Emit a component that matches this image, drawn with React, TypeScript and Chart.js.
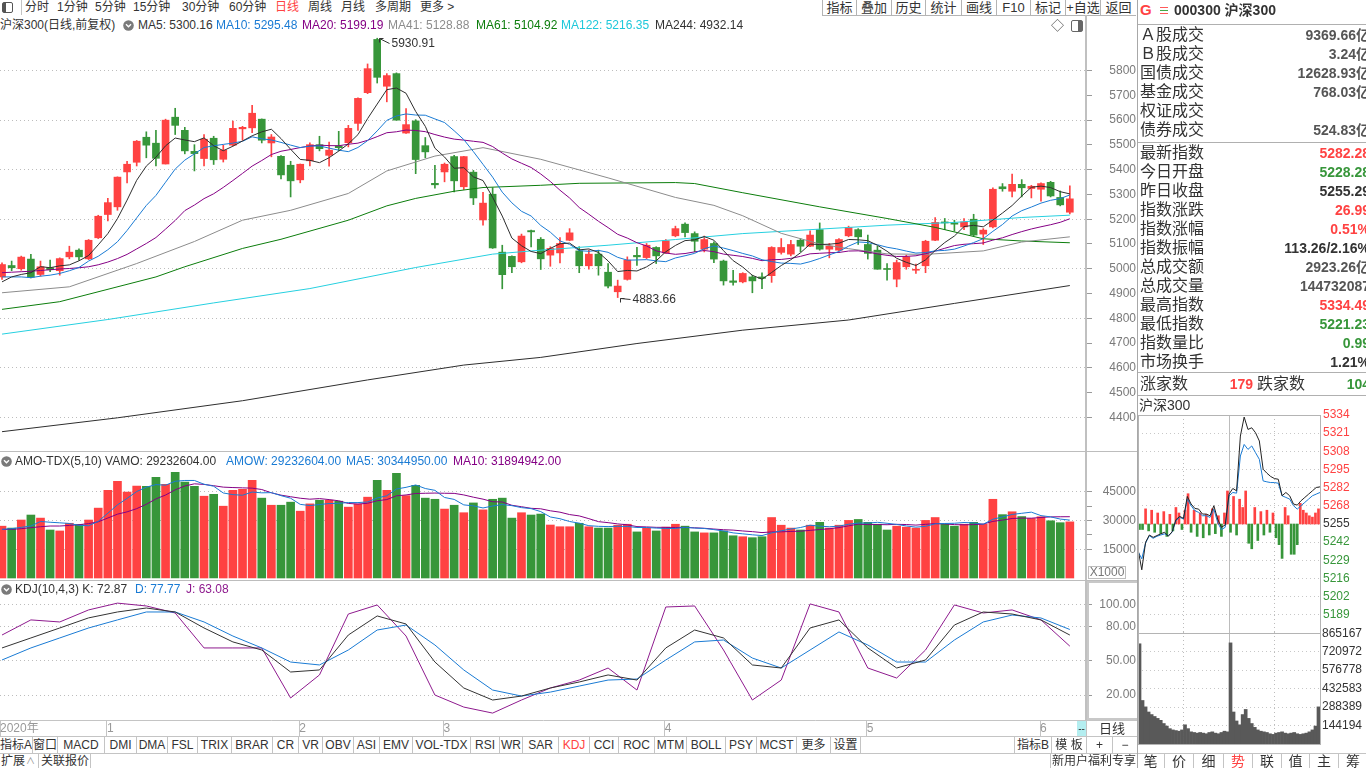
import React, { useEffect, useRef } from 'react';
import { Chart, registerables } from 'chart.js';

Chart.register(...registerables);

// ================= DATA =================
// 沪深300 daily candles, late Dec 2020 .. early Jun 2021
const opens = [
  4967, 5013, 5000, 5039, 4977, 5004, 4992, 5048, 5075, 5040,
  5125, 5219, 5250, 5391, 5430, 5531, 5507, 5423, 5612, 5559,
  5474, 5445, 5527, 5442, 5499, 5565, 5569, 5604, 5508, 5454,
  5418, 5359, 5436, 5501, 5458, 5496, 5509, 5587, 5711, 5926,
  5737, 5788, 5548, 5597, 5497, 5345, 5391, 5453, 5331, 5390,
  5197, 5301, 5067, 5050, 5028, 5154, 5119, 5055, 5064, 5115,
  5072, 5012, 5059, 4986, 4907, 4957, 5054, 5045, 5086, 5064,
  5133, 5180, 5142, 5079, 5102, 5031, 4951, 4947, 4967, 4967,
  4972, 5066, 5059, 5115, 5091, 5158, 5079, 5075, 5133, 5158,
  5098, 5075, 5001, 4958, 5008, 4994, 5012, 5115, 5189, 5185,
  5169, 5200, 5140, 5169, 5331, 5313, 5341, 5324, 5321, 5349,
  5288, 5228.28,
];
const highs = [
  5024, 5031, 5051, 5058, 5031, 5035, 5044, 5091, 5080, 5118,
  5216, 5284, 5371, 5434, 5518, 5553, 5559, 5604, 5648, 5571,
  5501, 5542, 5535, 5499, 5596, 5575, 5660, 5605, 5542, 5457,
  5434, 5423, 5508, 5535, 5511, 5555, 5579, 5690, 5827, 5930.91,
  5788, 5791, 5647, 5602, 5530, 5418, 5427, 5458, 5454, 5397,
  5309, 5327, 5095, 5052, 5140, 5156, 5126, 5089, 5126, 5162,
  5089, 5075, 5075, 5021, 4954, 5048, 5086, 5102, 5089, 5118,
  5172, 5185, 5149, 5132, 5109, 5035, 4994, 4984, 4974, 4984,
  5089, 5122, 5115, 5122, 5153, 5185, 5102, 5122, 5172, 5162,
  5136, 5091, 5021, 5035, 5055, 5019, 5115, 5207, 5203, 5196,
  5203, 5220, 5162, 5327, 5344, 5382, 5360, 5337, 5347, 5353,
  5314, 5334.49,
];
const lows = [
  4957, 4992, 4994, 4963, 4970, 4988, 4974, 5040, 5035, 5037,
  5122, 5193, 5236, 5347, 5415, 5448, 5415, 5423, 5542, 5464,
  5395, 5415, 5421, 5431, 5496, 5519, 5550, 5508, 5452, 5363,
  5290, 5347, 5415, 5476, 5414, 5476, 5492, 5559, 5707, 5750,
  5674, 5600, 5546, 5384, 5448, 5325, 5351, 5310, 5320, 5259,
  5176, 5082, 4919, 4984, 5024, 5088, 4997, 5010, 5024, 5113,
  4984, 4998, 4974, 4923, 4883.66, 4954, 5013, 5041, 5021, 5062,
  5129, 5129, 5068, 5068, 5025, 4934, 4934, 4943, 4903, 4920,
  4945, 5059, 5052, 5068, 5089, 5075, 5044, 5072, 5129, 5098,
  5039, 4998, 4954, 4927, 4998, 4981, 4984, 5113, 5158, 5152,
  5158, 5133, 5098, 5165, 5313, 5290, 5290, 5286, 5273, 5290,
  5254, 5221.23,
];
const closes = [
  5017, 5004, 5047, 4966, 5008, 4996, 5041, 5067, 5048, 5115,
  5212, 5267, 5370, 5422, 5515, 5499, 5446, 5600, 5579, 5476,
  5465, 5523, 5440, 5479, 5567, 5571, 5628, 5519, 5532, 5379,
  5355, 5422, 5501, 5485, 5479, 5489, 5567, 5688, 5808, 5773,
  5780, 5600, 5582, 5441, 5472, 5339, 5422, 5355, 5453, 5286,
  5265, 5084, 4976, 5008, 5132, 5149, 5040, 5082, 5102, 5145,
  5012, 5059, 5012, 4930, 4930, 5035, 5048, 5095, 5052, 5113,
  5162, 5146, 5111, 5118, 5039, 4951, 4945, 4981, 4951, 4961,
  5086, 5086, 5098, 5091, 5136, 5079, 5091, 5118, 5167, 5129,
  5062, 4998, 4997, 5025, 5048, 4998, 5111, 5187, 5185, 5180,
  5189, 5136, 5156, 5321, 5323, 5341, 5327, 5333, 5344, 5294,
  5258, 5282.28,
];
// AMO-TDX amount (x1000)
const amoValues = [
  27000, 26000, 30200, 32800, 31200, 25000, 24500, 28500, 27900, 30200,
  36400, 45700, 50300, 44800, 47900, 47800, 52400, 48800, 55000, 50000,
  47800, 42600, 43600, 37400, 45700, 46200, 50900, 41600, 37900, 37900,
  39500, 34800, 38600, 40500, 40500, 40000, 36900, 38500, 42100, 50900,
  45700, 54500, 42900, 48300, 41600, 41000, 35900, 37900, 34000, 39100,
  35500, 41000, 41600, 31200, 34000, 32800, 33300, 27600, 26700, 26700,
  28500, 26700, 26000, 26000, 27500, 28000, 24000, 26000, 24500, 26500,
  28000, 27000, 24000, 23500, 23500, 24500, 22000, 21500, 21000, 21500,
  31500, 27500, 26000, 25000, 27500, 29000, 26000, 27500, 30000, 30500,
  29000, 28000, 25000, 27000, 26500, 26000, 30000, 31500, 28000, 27000,
  28000, 29000, 28000, 41000, 33000, 34500, 32000, 31000, 31900, 29800,
  28800, 29233,
];

// moving-average values before enough visible history exists
const ma5Head = [4947, 4967, 4977, 4984];
const ma10Head = [4967, 4967, 4967, 4964, 4970, 4974, 4981, 4992, 5005];
const ma20Head = [4984, 4986, 4988, 4990, 4993, 4996, 4999, 5001, 5004, 5008, 5016, 5027, 5041, 5058, 5080, 5102, 5126, 5160, 5195];
const amoMa5Head = [25340, 25690, 26380, 27070];
const amoMa10Head = [25340, 25340, 25690, 26200, 26720, 27070, 27070, 27400, 27760, 28000];

// long moving averages at sample candles
const ma41Index = [0, 7, 14, 20, 25, 30, 36, 40, 45, 50, 56, 63, 70, 74, 77, 81, 85, 88, 92, 96, 102, 106, 111];
const ma41Value = [4903, 4927, 5021, 5110, 5196, 5236, 5304, 5395, 5455, 5489, 5442, 5367, 5288, 5256, 5214, 5143, 5100, 5081, 5060, 5058, 5072, 5108, 5128.88];
const ma61Index = [0, 6, 16, 19, 25, 29, 36, 40, 43, 47, 50, 56, 60, 70, 72, 77, 85, 92, 97, 102, 106, 111];
const ma61Value = [4836, 4867, 4967, 5008, 5082, 5119, 5196, 5254, 5284, 5313, 5328, 5337, 5345, 5348, 5344, 5307, 5250, 5203, 5167, 5121, 5112, 5104.92];
const ma122Index = [0, 11, 22, 32, 43, 51, 56, 63, 70, 77, 85, 92, 99, 106, 111];
const ma122Value = [4736, 4795, 4862, 4920, 5005, 5059, 5075, 5095, 5118, 5142, 5160, 5176, 5187, 5207, 5216.35];
const ma244Index = [0, 12, 25, 38, 48, 56, 66, 77, 88, 99, 111];
const ma244Value = [4342, 4398, 4467, 4551, 4611, 4642, 4698, 4752, 4793, 4860, 4932.14];

// KDJ(10,4,3) read every 3 candles
const kValues = [61.5, 70.3, 79.1, 88, 93.2, 96.7, 93.2, 79.1, 66.8, 59.7, 40.3, 42.1, 72.9, 89.7, 82.6, 49.1, 26.2, 15.6, 19.1, 26.2, 31.5, 37.7, 33.2, 61.5, 77.3, 70.3, 46.5, 43.8, 79.1, 86.2, 61.5, 43.8, 50.9, 81.7, 93.2, 91.4, 86.2, 72.87];
const dValues = [50.9, 61.5, 70.3, 79.1, 86.2, 93.2, 93.2, 84.4, 72, 61.5, 49.1, 46.5, 59.7, 77.3, 81.7, 64.1, 42.1, 24.4, 19.1, 22.6, 27.9, 33.2, 34.1, 50.9, 66.8, 68.5, 52.6, 43.8, 59.7, 75.6, 64.1, 49.1, 49.1, 68.5, 84.4, 90.5, 87.9, 77.77];
const jValues = [72.9, 86.2, 84.4, 95, 101, 98.5, 92.3, 61.5, 61.5, 61.5, 17.4, 37.7, 91.4, 99.4, 72, 20, 9.4, 4.1, 15.6, 26.2, 33.2, 43.8, 24.4, 97.6, 98.5, 59.7, 15.6, 33.2, 100.3, 93.2, 43.8, 35, 59.7, 99.4, 92.3, 95, 86.2, 63.08];

// axis ticks
const priceTicks = [4400, 4500, 4600, 4700, 4800, 4900, 5000, 5100, 5200, 5300, 5400, 5500, 5600, 5700, 5800];
const amoTicks = [15000, 22500, 30000, 37500, 45000];
const kdjTicks = [20, 50, 80, 100];
const monthStartIndex = [11, 31, 46, 69, 90, 108];
const dateLabels = ['2020年', '1', '2', '3', '4', '5', '6'];

// intraday (分时) for the latest day
const intradayPrevClose = 5255.29;
const intradayPrice = [5237.2, 5222, 5242.0, 5247.3, 5245.6, 5246.9, 5248.1, 5249.3, 5246.4, 5249.7, 5258.4, 5260.8, 5259.4, 5275.3, 5269.8, 5266.6, 5266.1, 5262.5, 5262.5, 5261.3, 5268.6, 5258.9, 5252.9, 5254.6, 5277.0, 5281.1, 5279.4, 5319.2, 5333, 5324.0, 5325.2, 5321.6, 5315.6, 5295.1, 5292.2, 5289.8, 5288.3, 5287.8, 5275.8, 5278.2, 5275.8, 5269.8, 5269.0, 5272.2, 5274.6, 5277.0, 5279.4, 5281.8, 5282.28];
const intradayAvg = [5235.3, 5230, 5241.5, 5246.8, 5244.9, 5246.4, 5247.3, 5248.1, 5246.9, 5249.3, 5257.7, 5260.1, 5258.9, 5273.4, 5268.6, 5265, 5263.7, 5261.3, 5261.3, 5260.1, 5266.1, 5256.5, 5251.2, 5252.9, 5275.8, 5278.2, 5277.7, 5304.7, 5313.1, 5309.5, 5312, 5307.1, 5302.3, 5286.6, 5285.9, 5285.4, 5285.4, 5284.9, 5275.8, 5274.6, 5273.4, 5268.6, 5266.1, 5268.6, 5271, 5273.4, 5275.8, 5277, 5278.2];
const intradayPower = [-4, -4, 11, -5, 10, -6, 8, -7, 9, -9, 7, -5, 12, 8, -4, 10, 22, -6, 10, -9, 8, -10, 7, -8, 11, -7, 6, -9, 8, 24, -6, 20, -8, 18, 12, 24, -14, -18, 12, -12, 9, -8, 10, -6, 8, -10, -15, -25, 12, 6, -22, -22, -15, 15, 10, 8, 6, 5, 8, 11];
const intradayVolume = [783000, 340000, 290000, 250000, 230000, 215000, 200000, 185000, 160000, 140000, 120000, 110000, 105000, 100000, 110000, 150000, 120000, 95000, 90000, 85000, 90000, 85000, 80000, 90000, 95000, 85000, 80000, 90000, 100000, 95000, 790000, 250000, 180000, 150000, 230000, 270000, 200000, 160000, 130000, 110000, 100000, 95000, 90000, 80000, 75000, 85000, 90000, 95000, 85000, 80000, 85000, 90000, 80000, 75000, 80000, 85000, 95000, 110000, 140000, 290000];
const intradayPriceTicks = [5176.09, 5189.29, 5202.49, 5215.69, 5228.89, 5242.09, 5255.29, 5268.49, 5281.69, 5294.89, 5308.09, 5321.29, 5334.49];
const intradayPriceLabels = ['', '5189', '5202', '5216', '5229', '5242', '5255', '5268', '5282', '5295', '5308', '5321', '5334'];
const intradayVolTicks = [144194, 288389, 432583, 576778, 720972, 865167];
const intradayGridMinutes = [60, 120, 180];

// ================= STYLE =================
const FONT = '"Liberation Sans", "Noto Sans CJK SC", sans-serif';
const CFONT = '"Liberation Sans", sans-serif';
const RED = '#ff4242';
const GREEN = '#37963a';
const BLUE = '#1a7bd4';
const PURPLE = '#850085';
const GRID = '#bdbdbd';
const LINE = '#c4c4c4';
const X_MIN = -0.21;
const X_MAX = 112.68;

const seq = (n: number) => Array.from({ length: n }, (_, i) => i);
const pts = (xs: number[], ys: number[]) => ys.map((y, i) => ({ x: xs[i], y }));
function movingAverage(values: number[], n: number, head: number[]) {
  return values.map((_, i) => {
    if (i < n - 1) return head[i];
    let s = 0;
    for (let k = i - n + 1; k <= i; k++) s += values[k];
    return s / n;
  });
}

const candleIdx = seq(closes.length);
const candleColors = closes.map((c, i) => (c >= opens[i] ? RED : GREEN));
const kdjIndex = seq(kValues.length).map((k) => k * 3);
const intradayPriceMinute = seq(intradayPrice.length).map((k) => k * 5);
const intradayBarMinute = seq(intradayVolume.length).map((m) => m * 4 + 2);

function noPad(s: any) {
  s.paddingTop = 0;
  s.paddingBottom = 0;
  s.paddingLeft = 0;
  s.paddingRight = 0;
}

function lineDs(data: any[], color: string) {
  return { type: 'line', data, borderColor: color, borderWidth: 1, pointRadius: 0, tension: 0, fill: false, order: 0 };
}

function base(scales: any, padding: any = 0) {
  return {
    animation: false,
    responsive: false,
    maintainAspectRatio: false,
    devicePixelRatio: 1,
    events: [],
    layout: { padding, autoPadding: false },
    plugins: { legend: { display: false }, tooltip: { enabled: false } },
    scales,
  };
}

const xHidden = { type: 'linear', min: X_MIN, max: X_MAX, display: false, offset: false, grid: { offset: false } };

function rightAxis(min: number, max: number, tickValues: number[], labelFn: any, gridFn: any, padding: number) {
  return {
    type: 'linear',
    position: 'right',
    min,
    max,
    afterFit: (s: any) => { s.width = 50; noPad(s); },
    afterBuildTicks: (s: any) => { s.ticks = tickValues.map((v) => ({ value: v })); },
    ticks: { callback: labelFn, color: '#7a7a7a', font: { family: CFONT, size: 12 }, padding, crossAlign: 'far', autoSkip: false },
    grid: { color: gridFn, tickColor: '#9a9a9a', tickLength: 6, lineWidth: 1, drawTicks: true },
    border: { display: true, color: '#c0c0c0', width: 2, dash: [1, 3] },
  };
}

const extremesPlugin = {
  id: 'extremes',
  afterDatasetsDraw(chart: any) {
    const { ctx, scales } = chart;
    let hi = 0;
    let lo = 0;
    for (let i = 1; i < highs.length; i++) {
      if (highs[i] > highs[hi]) hi = i;
      if (lows[i] < lows[lo]) lo = i;
    }
    ctx.save();
    ctx.strokeStyle = '#333';
    ctx.fillStyle = '#333';
    ctx.lineWidth = 1;
    ctx.font = '12px ' + CFONT;
    ctx.textBaseline = 'middle';
    ctx.textAlign = 'left';
    const mark = (i: number, v: number, dy: number) => {
      const px = Math.round(scales.x.getPixelForValue(i)) + 2.5;
      const py = Math.round(scales.y.getPixelForValue(v)) + 0.5;
      ctx.beginPath();
      ctx.moveTo(px, py); ctx.lineTo(px + 10, py + dy);
      ctx.moveTo(px, py); ctx.lineTo(px + 4, py);
      ctx.moveTo(px, py); ctx.lineTo(px, py + 4);
      ctx.stroke();
      ctx.fillText(v.toFixed(2), px + 12, py + dy);
    };
    mark(hi, highs[hi], 5);
    mark(lo, lows[lo], 1);
    ctx.restore();
  },
};

function mainConfig() {
  const ma5 = movingAverage(closes, 5, ma5Head);
  const ma10 = movingAverage(closes, 10, ma10Head);
  const ma20 = movingAverage(closes, 20, ma20Head);
  return {
    type: 'bar',
    data: {
      datasets: [
        lineDs(pts(candleIdx, ma5), '#2e2e2e'),
        lineDs(pts(candleIdx, ma10), BLUE),
        lineDs(pts(candleIdx, ma20), PURPLE),
        lineDs(pts(ma41Index, ma41Value), '#8c8c8c'),
        lineDs(pts(ma61Index, ma61Value), '#0c7d0c'),
        lineDs(pts(ma122Index, ma122Value), '#26d0e0'),
        lineDs(pts(ma244Index, ma244Value), '#2e2e2e'),
        {
          type: 'bar',
          data: candleIdx.map((i) => ({ x: i, y: [lows[i], highs[i]] })),
          backgroundColor: candleColors,
          barThickness: 1,
          maxBarThickness: 1,
          grouped: false,
          order: 3,
        },
        {
          type: 'bar',
          data: candleIdx.map((i) => ({ x: i, y: [Math.min(opens[i], closes[i]), Math.max(opens[i], closes[i])] })),
          backgroundColor: candleColors,
          barThickness: 7,
          maxBarThickness: 7,
          minBarLength: 1,
          grouped: false,
          order: 2,
        },
      ],
    },
    options: base({
      x: xHidden,
      y: rightAxis(4264, 5952, priceTicks, (v: number) => String(v),
        (c: any) => (c.tick && c.tick.value % 200 === 0 ? GRID : 'rgba(0,0,0,0)'), 7),
    }),
    plugins: [extremesPlugin],
  };
}

function amoConfig() {
  const m5 = movingAverage(amoValues, 5, amoMa5Head);
  const m10 = movingAverage(amoValues, 10, amoMa10Head);
  return {
    type: 'bar',
    data: {
      datasets: [
        lineDs(pts(candleIdx, m5), BLUE),
        lineDs(pts(candleIdx, m10), PURPLE),
        {
          type: 'bar',
          data: pts(candleIdx, amoValues),
          backgroundColor: candleColors,
          barThickness: 8,
          maxBarThickness: 8,
          grouped: false,
          order: 2,
        },
      ],
    },
    options: base({
      x: xHidden,
      y: rightAxis(-1562, 66146, amoTicks, (v: number) => (v % 15000 === 0 ? String(v) : ''),
        (c: any) => (c.tick && c.tick.value % 15000 === 0 ? GRID : 'rgba(0,0,0,0)'), 2),
    }),
  };
}

function kdjConfig() {
  return {
    type: 'line',
    data: {
      datasets: [
        lineDs(pts(kdjIndex, kValues), '#333333'),
        lineDs(pts(kdjIndex, dValues), BLUE),
        lineDs(pts(kdjIndex, jValues), '#8e1a8e'),
      ],
    },
    options: base({
      x: {
        type: 'linear',
        position: 'bottom',
        min: X_MIN,
        max: X_MAX,
        offset: false,
        afterFit: (s: any) => { s.height = 16; noPad(s); },
        afterBuildTicks: (s: any) => {
          s.ticks = [X_MIN, ...monthStartIndex.map((v) => v - 0.1)].map((v) => ({ value: v }));
        },
        ticks: {
          callback: (_v: any, i: number) => dateLabels[i],
          align: 'start',
          padding: -15,
          color: '#999999',
          font: { family: FONT, size: 12 },
          maxRotation: 0,
          minRotation: 0,
          autoSkip: false,
        },
        grid: { drawOnChartArea: false, drawTicks: true, tickLength: 16, tickColor: LINE, color: LINE, offset: false },
        border: { display: true, color: LINE, width: 1 },
      },
      y: rightAxis(-2.0, 120.5, kdjTicks, (v: number) => v.toFixed(2), () => GRID, -3),
    }),
  };
}

const intradayX = {
  type: 'linear',
  min: 0,
  max: 240,
  offset: false,
  afterFit: (s: any) => { s.height = 0; noPad(s); },
  afterBuildTicks: (s: any) => { s.ticks = intradayGridMinutes.map((v) => ({ value: v })); },
  ticks: { display: false },
  grid: { color: '#bcbcbc', drawTicks: false, offset: false },
  border: { display: false, dash: (c: any) => (c.tick && c.tick.value === 120 ? [] : [1, 3]) },
};

function intradayPriceConfig() {
  return {
    type: 'bar',
    data: {
      datasets: [
        lineDs(pts(intradayPriceMinute, intradayPrice), '#222222'),
        lineDs(pts(intradayPriceMinute, intradayAvg), BLUE),
        {
          type: 'bar',
          data: intradayPower.map((d, m) => ({ x: intradayBarMinute[m], y: [intradayPrevClose, intradayPrevClose + d] })),
          backgroundColor: intradayPower.map((d) => (d >= 0 ? RED : GREEN)),
          barThickness: 2,
          maxBarThickness: 2,
          grouped: false,
          order: 2,
        },
      ],
    },
    options: base({
      x: intradayX,
      y: {
        type: 'linear',
        position: 'right',
        min: intradayPriceTicks[0],
        max: intradayPriceTicks[intradayPriceTicks.length - 1],
        afterFit: (s: any) => { s.width = 46; noPad(s); },
        afterBuildTicks: (s: any) => { s.ticks = intradayPriceTicks.map((v) => ({ value: v })); },
        ticks: {
          callback: (_v: any, i: number) => intradayPriceLabels[i],
          color: (c: any) => {
            const v = c.tick ? c.tick.value : intradayPrevClose;
            return v > intradayPrevClose + 0.5 ? RED : v < intradayPrevClose - 0.5 ? GREEN : '#333333';
          },
          font: { family: CFONT, size: 12 },
          padding: 3,
          autoSkip: false,
        },
        grid: { color: '#c8c8c8', drawTicks: false },
        border: { display: false, dash: [1, 3] },
      },
    }, { top: 8, left: 2 }),
  };
}

function intradayVolConfig() {
  return {
    type: 'bar',
    data: {
      datasets: [
        {
          type: 'bar',
          data: pts(intradayBarMinute, intradayVolume),
          backgroundColor: '#595959',
          barThickness: 3,
          maxBarThickness: 3,
          grouped: false,
        },
      ],
    },
    options: base({
      x: intradayX,
      y: {
        type: 'linear',
        position: 'right',
        min: 0,
        max: 875000,
        afterFit: (s: any) => { s.width = 46; noPad(s); },
        afterBuildTicks: (s: any) => { s.ticks = intradayVolTicks.map((v) => ({ value: v })); },
        ticks: { callback: (v: number) => String(v), color: '#333333', font: { family: CFONT, size: 12 }, padding: 2, autoSkip: false },
        grid: { color: '#c8c8c8', drawTicks: false },
        border: { display: false, dash: [1, 3] },
      },
    }, { top: 8, left: 2 }),
  };
}

// ================= COMPONENTS =================
function ChartBox({ left, top, width, height, make }: any) {
  const ref = useRef<HTMLCanvasElement>(null);
  useEffect(() => {
    const chart = new Chart(ref.current as HTMLCanvasElement, make());
    return () => chart.destroy();
  }, []);
  return <canvas ref={ref} width={width} height={height} style={{ position: 'absolute', left, top, width, height }} />;
}

function T({ x, cy, s = 12, c = '#333', b = false, r = false, f, children }: any) {
  const lh = Math.round(s * 1.3);
  const st: any = {
    position: 'absolute', top: cy - lh / 2, height: lh, lineHeight: lh + 'px', fontSize: s, color: c,
    fontWeight: b ? 700 : 400, whiteSpace: 'nowrap', fontFamily: f || FONT,
  };
  if (r) st.right = 1366 - x; else st.left = x;
  return <div style={st}>{children}</div>;
}

function HL({ x1, x2, y, c = LINE, w = 1 }: any) {
  return <div style={{ position: 'absolute', left: x1, top: y, width: x2 - x1, height: w, background: c }} />;
}
function VL({ x, y1, y2, c = LINE, w = 1 }: any) {
  return <div style={{ position: 'absolute', left: x, top: y1, width: w, height: y2 - y1, background: c }} />;
}

function Cell({ x1, x2, y, h, children, c = '#333', s = 12, left = false }: any) {
  return (
    <div style={{
      position: 'absolute', left: x1, top: y, width: x2 - x1, height: h, boxSizing: 'border-box',
      borderRight: left ? 'none' : `1px solid ${LINE}`, borderLeft: left ? `1px solid ${LINE}` : 'none',
      textAlign: 'center', lineHeight: h + 'px', fontSize: s, color: c, whiteSpace: 'nowrap', overflow: 'hidden',
    }}>{children}</div>
  );
}

function Knob({ x, cy }: any) {
  return (
    <svg style={{ position: 'absolute', left: x, top: cy - 5 }} width={11} height={11} viewBox="0 0 11 11">
      <circle cx="5.5" cy="5.5" r="5.3" fill="#7a7a7a" />
      <polyline points="3,4.3 5.5,6.8 8,4.3" fill="none" stroke="#fff" strokeWidth="1.4" />
    </svg>
  );
}

const toolbarItems: any[] = [['分时', 25], ['1分钟', 57], ['5分钟', 95], ['15分钟', 133], ['30分钟', 182], ['60分钟', 229], ['日线', 275, RED], ['周线', 308], ['月线', 341], ['多周期', 375], ['更多 >', 420]];
const toolbarButtons: any[] = [['指标', 822, 856], ['叠加', 856, 891], ['历史', 891, 925], ['统计', 925, 961], ['画线', 961, 996], ['F10', 996, 1030], ['标记', 1030, 1065], ['+自选', 1065, 1100], ['返回', 1100, 1136]];
const leftTabs: any[] = [['指标A', 0, 33], ['窗口', 33, 58], ['MACD', 58, 105], ['DMI', 105, 137], ['DMA', 137, 168], ['FSL', 168, 198], ['TRIX', 198, 232], ['BRAR', 232, 273], ['CR', 273, 299], ['VR', 299, 323], ['OBV', 323, 354], ['ASI', 354, 380], ['EMV', 380, 413], ['VOL-TDX', 413, 471], ['RSI', 471, 500], ['WR', 500, 523], ['SAR', 523, 559], ['KDJ', 559, 590], ['CCI', 590, 619], ['ROC', 619, 655], ['MTM', 655, 687], ['BOLL', 687, 726], ['PSY', 726, 757], ['MCST', 757, 797], ['更多', 797, 831], ['设置', 831, 861]];
const rightTabs: any[] = [['指标B', 1014, 1051], ['模 板', 1051, 1086], ['+', 1086, 1112], ['−', 1112, 1137]];
const quoteTabs: any[] = [['笔', 1137, 1165], ['价', 1165, 1194], ['细', 1194, 1224], ['势', 1224, 1253], ['联', 1253, 1282], ['值', 1282, 1310], ['主', 1310, 1339], ['筹', 1339, 1368]];
const turnoverRows: any[] = [['Ａ股成交', '9369.66亿'], ['Ｂ股成交', '3.24亿'], ['国债成交', '12628.93亿'], ['基金成交', '768.03亿'], ['权证成交', ''], ['债券成交', '524.83亿']];
const indexRows: any[] = [
  ['最新指数', '5282.28', RED], ['今日开盘', '5228.28', GREEN], ['昨日收盘', '5255.29', '#333'],
  ['指数涨跌', '26.99', RED], ['指数涨幅', '0.51%', RED], ['指数振幅', '113.26/2.16%', '#333'],
  ['总成交额', '2923.26亿', '#555'], ['总成交量', '144732087', '#555'], ['最高指数', '5334.49', RED],
  ['最低指数', '5221.23', GREEN], ['指数量比', '0.99', GREEN], ['市场换手', '1.21%', '#333'],
];

const VALUE_RIGHT = 1370;

export default function App() {
  return (
    <div style={{ position: 'fixed', left: 0, top: 0, width: 1366, height: 768, overflow: 'hidden', background: '#fff', fontFamily: FONT }}>
      <ChartBox left={0} top={33} width={1136} height={418} make={mainConfig} />
      <ChartBox left={0} top={451} width={1136} height={130} make={amoConfig} />
      <ChartBox left={0} top={581} width={1136} height={155} make={kdjConfig} />
      <ChartBox left={1136} top={407} width={230} height={226} make={intradayPriceConfig} />
      <ChartBox left={1136} top={624} width={230} height={120} make={intradayVolConfig} />

      {/* toolbar */}
      <div style={{ position: 'absolute', left: 2, top: 2, width: 9, height: 9, border: '1px solid #555', borderRadius: 2 }}>
        <div style={{ position: 'absolute', left: 0, top: 0, width: 3, height: 9, background: '#555' }} />
      </div>
      <VL x={21} y1={0} y2={15} />
      {toolbarItems.map(([t, x, c]) => <T key={t} x={x} cy={7} c={c || '#333'}>{t}</T>)}
      {toolbarButtons.map(([t, x1, x2]) => (
        <div key={t} style={{ position: 'absolute', left: x1, top: 0, width: x2 - x1, height: 16, boxSizing: 'border-box', borderLeft: '1px solid #b4b4b4', borderBottom: '1px solid #b4b4b4', fontSize: 13, lineHeight: '15px', textAlign: 'center', color: '#333', whiteSpace: 'nowrap' }}>{t}</div>
      ))}

      {/* main legend */}
      <T x={0} cy={25}>沪深300(日线,前复权)</T>
      <Knob x={123} cy={25} />
      <T x={138} cy={25} c="#333">MA5: 5300.16</T>
      <T x={216} cy={25} c={BLUE}>MA10: 5295.48</T>
      <T x={302} cy={25} c={PURPLE}>MA20: 5199.19</T>
      <T x={388} cy={25} c="#8c8c8c">MA41: 5128.88</T>
      <T x={476} cy={25} c="#0c7d0c">MA61: 5104.92</T>
      <T x={561} cy={25} c="#1ec8da">MA122: 5216.35</T>
      <T x={655} cy={25} c="#333">MA244: 4932.14</T>
      <T x={1051} cy={25} c="#555" s={13}>◇</T>
      <div style={{ position: 'absolute', left: 1071, top: 20, width: 10, height: 10, border: '1px solid #666', borderRadius: 2 }}>
        <div style={{ position: 'absolute', right: 0, top: 0, width: 4, height: 10, background: '#666' }} />
      </div>
      <VL x={1085} y1={15} y2={33} c="#c0c0c0" w={2} />

      {/* panel separators */}
      <HL x1={0} x2={1137} y={451} c="#bdbdbd" />
      <HL x1={0} x2={1137} y={580} c="#bdbdbd" />

      {/* AMO legend */}
      <Knob x={1} cy={461} />
      <T x={15} cy={461}>AMO-TDX(5,10) VAMO: 29232604.00</T>
      <T x={226} cy={461} c={BLUE}>AMOW: 29232604.00</T>
      <T x={346} cy={461} c={BLUE}>MA5: 30344950.00</T>
      <T x={453} cy={461} c={PURPLE}>MA10: 31894942.00</T>
      <div style={{ position: 'absolute', left: 1088, top: 566, width: 38, height: 13, boxSizing: 'border-box', border: '1px solid #bdbdbd', fontSize: 12, lineHeight: '11px', color: '#777', textAlign: 'center' }}>X1000</div>

      {/* KDJ legend */}
      <Knob x={1} cy={589} />
      <T x={15} cy={589}>KDJ(10,4,3) K: 72.87</T>
      <T x={135} cy={589} c={BLUE}>D: 77.77</T>
      <T x={186} cy={589} c="#8e1a8e">J: 63.08</T>
      <div style={{ position: 'absolute', left: 1087, top: 581, width: 52, height: 139, boxSizing: 'border-box', border: '2px solid #c8c8c8' }} />

      {/* date bar extras */}
      <div style={{ position: 'absolute', left: 1077, top: 721, width: 9, height: 15, background: '#b4eef0', fontSize: 10, lineHeight: '15px', textAlign: 'center', color: '#333' }}>--</div>
      <div style={{ position: 'absolute', left: 1086, top: 720, width: 51, height: 16, boxSizing: 'border-box', borderLeft: `1px solid ${LINE}`, borderTop: `1px solid ${LINE}`, fontSize: 13, lineHeight: '16px', textAlign: 'center', color: '#333' }}>日线</div>

      {/* indicator tabs */}
      <HL x1={0} x2={1137} y={736} />
      <HL x1={0} x2={1137} y={753} />
      {leftTabs.map(([t, x1, x2]) => <Cell key={t} x1={x1} x2={x2} y={737} h={16} c={t === 'KDJ' ? RED : '#333'}>{t}</Cell>)}
      {rightTabs.map(([t, x1, x2]) => <Cell key={t} x1={x1} x2={x2} y={737} h={16} left>{t}</Cell>)}

      {/* bottom row */}
      <T x={1} cy={761}>扩展</T>
      <T x={26} cy={761} s={9} c="#888">∧</T>
      <VL x={38} y1={753} y2={768} />
      <T x={41} cy={761}>关联报价</T>
      <VL x={90} y1={753} y2={768} />
      <VL x={1050} y1={753} y2={768} />
      <T x={1052} cy={761}>新用户福利专享</T>

      {/* right panel */}
      <VL x={1137} y1={0} y2={768} c="#a8a8a8" />
      <T x={1140} cy={10} s={15} b c={RED}>G</T>
      <HL x1={1160} x2={1168} y={7} c="#ff5a5a" />
      <HL x1={1160} x2={1168} y={10} c="#45a845" />
      <HL x1={1160} x2={1168} y={13} c="#ff5a5a" />
      <T x={1174} cy={10} s={14} b c="#333">000300 沪深300</T>
      <HL x1={1138} x2={1366} y={24} c="#b0b0b0" />
      {turnoverRows.map(([l, v], i) => (
        <React.Fragment key={l}>
          <T x={1140} cy={34.5 + i * 19} s={16} c="#333">{l}</T>
          <T x={VALUE_RIGHT} cy={34.5 + i * 19} s={14} b r c="#555">{v}</T>
        </React.Fragment>
      ))}
      <HL x1={1138} x2={1366} y={142} c="#b0b0b0" />
      {indexRows.map(([l, v, c], i) => (
        <React.Fragment key={l}>
          <T x={1140} cy={152.5 + i * 19} s={16} c="#333">{l}</T>
          <T x={VALUE_RIGHT} cy={152.5 + i * 19} s={14} b r c={c}>{v}</T>
        </React.Fragment>
      ))}
      <HL x1={1138} x2={1366} y={372} c="#b0b0b0" />
      <T x={1140} cy={383.5} s={16} c="#333">涨家数</T>
      <T x={1253} cy={383.5} s={14} b r c={RED}>179</T>
      <T x={1257} cy={383.5} s={16} c="#333">跌家数</T>
      <T x={VALUE_RIGHT} cy={383.5} s={14} b r c={GREEN}>104</T>
      <HL x1={1138} x2={1366} y={395} c="#b0b0b0" />
      <T x={1139} cy={405} s={14} c="#333">沪深300</T>

      {/* intraday frame */}
      <VL x={1138} y1={415} y2={744} c="#b4b4b4" />
      <VL x={1320} y1={415} y2={744} c="#b4b4b4" />
      <HL x1={1138} x2={1321} y={415} c="#b4b4b4" />
      <HL x1={1138} x2={1321} y={633} c="#b4b4b4" />
      <HL x1={1138} x2={1321} y={744} c="#b4b4b4" />

      {/* quote tabs */}
      <HL x1={1138} x2={1366} y={753} />
      {quoteTabs.map(([t, x1, x2]) => <Cell key={t} x1={x1} x2={x2} y={754} h={15} s={14} c={t === '势' ? RED : '#333'}>{t}</Cell>)}
    </div>
  );
}
